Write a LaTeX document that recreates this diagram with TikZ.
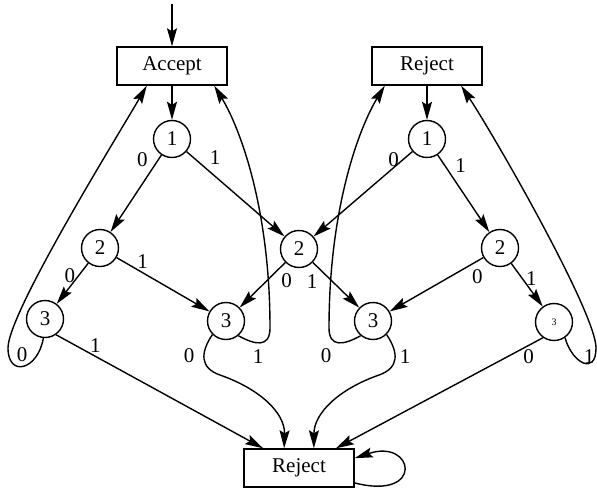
\documentclass[tikz,border=0pt]{standalone}
\usepackage{fontspec}
\setmainfont{Liberation Serif}
\usetikzlibrary{arrows.meta}

\begin{document}
\begin{tikzpicture}[x=0.5pt,y=0.5pt,line width=0.7pt,>={Stealth[length=9pt,width=5pt,inset=1.5pt]},font=\fontsize{10.5}{12}\selectfont]
\tikzstyle{state}=[circle,draw=black,minimum size=18.5pt,inner sep=0pt]
\tikzstyle{final}=[rectangle,draw=black,minimum width=55pt,minimum height=19pt,inner sep=0pt]
\tikzstyle{followed}=[->]
\tikzstyle{bit}=[inner sep=1.5pt]

\useasboundingbox (0,0) rectangle (597,488);

\node[final] (acc) at (172,422) {Accept};
\node[final] (rejtop) at (427,422) {Reject};
\node[final] (rejbot) at (299,20) {Reject};

\node[state] (a1) at (172,349) {1};
\node[state] (r1) at (427,349) {1};
\node[state] (a2) at (100,240) {2};
\node[state] (m2) at (299,239) {2};
\node[state] (r2) at (500,240) {2};
\node[state] (a3) at (45,169) {3};
\node[state] (ml3) at (226,167) {3};
\node[state] (mr3) at (373,167) {3};
\node[state] (r3) at (554,166) {\fontsize{5}{6}\selectfont 3};

\coordinate (in) at (172,484);

\path
  	(in) edge [followed] (acc)
  	(acc) edge [followed] (a1)
  	(rejtop) edge [followed] (r1)
  	(a1) edge [followed] node[bit,above left,pos=0.2] () {0} (a2)
  	(a1) edge [followed] node[bit,above right,pos=0.2] () {1} (m2)
  	(r1) edge [followed] node[bit,left,pos=0.1] () {0} (m2)
  	(r1) edge [followed] node[bit,above right,pos=0.27] () {1} (r2)
  	(a2) edge [followed] node[bit,left,pos=0.3] () {0} (a3)
  	(a2) edge [followed] node[bit,above,pos=0.28] () {1} (ml3)
  	(m2) edge [followed] node[bit,below right,pos=0.17] () {0} (ml3)
  	(m2) edge [followed] node[bit,below left,pos=0.18] () {1} (mr3)
  	(r2) edge [followed] node[bit,below right,pos=0.16] () {0} (mr3)
  	(r2) edge [followed] node[bit,right,pos=0.35] () {1} (r3)
  	(a3.-55) edge [followed] node[bit,above,pos=0.19] () {1} (rejbot)
  	(r3.235) edge [followed] node[bit,below,pos=0.07] () {0} (rejbot);

% loops back to the top boxes
\draw[followed] (a3.265) .. controls (38,118) and (8,110) .. (8,140)
  .. controls (8,175) and (117,351) .. (acc.218);
\draw[followed] (ml3.-50) .. controls (255,143) and (270,140) .. (270,160)
  .. controls (270,280) and (240,360) .. (acc.-25);
\draw[followed] (mr3.230) .. controls (344,143) and (329,140) .. (329,160)
  .. controls (329,280) and (359,360) .. (rejtop.205);
\draw[followed] (r3.-55) .. controls (572,125) and (596,112) .. (596,140)
  .. controls (596,175) and (495,351) .. (rejtop.-30);

% down to the bottom box
\draw[followed] (ml3.225) .. controls (200,135) and (200,120) .. (220,113)
  .. controls (260,99) and (285,75) .. (rejbot.127);
\draw[followed] (mr3.-45) .. controls (399,135) and (399,120) .. (379,113)
  .. controls (339,99) and (314,75) .. (rejbot.53);
\draw[followed] (rejbot.-15) .. controls +(70,-18) and +(60,20) .. (rejbot.10);

\node[bit] (a3zero) at (22,133) {0};
\node[bit] (ml3zero) at (189,132) {0};
\node[bit] (ml3one) at (258,131) {1};
\node[bit] (mr3zero) at (326,132) {0};
\node[bit] (mr3one) at (405,131) {1};
\node[bit] (r3one) at (589,131) {1};
\end{tikzpicture}
\end{document}
